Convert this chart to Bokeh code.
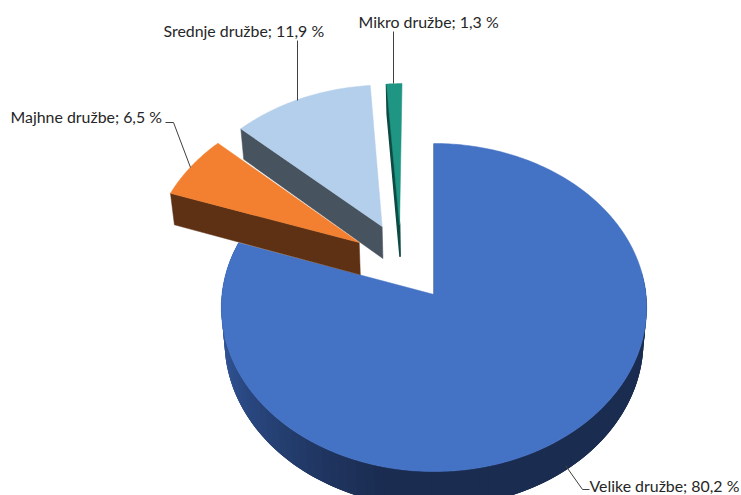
import math
from bokeh.core.properties import value
from bokeh.embed import file_html
from bokeh.models import Range1d
from bokeh.plotting import figure
from bokeh.resources import INLINE

# --- data ---
categories = ["Velike družbe", "Majhne družbe", "Srednje družbe", "Mikro družbe"]
shares = [80.2, 6.5, 11.9, 1.3]
value_labels = ["80,2 %", "6,5 %", "11,9 %", "1,3 %"]

# --- style and layout ---
top_colors = ["#4472c4", "#f28030", "#b4cfeb", "#1f9584"]
wall_colors = [None, "#5f3114", "#47535e", "#0e4a44"]
wall_widths = [0, 0.5, 0.5, 1.6]
explode = [(0.0, 0.0), (-0.362, 0.327), (-0.253, 0.431), (-0.168, 0.442)]
CX, CY, A, B, K = 433.5, 294.0, 163.0, 212.0, 0.0793
X_SHRINK, Y_DROP, Y_GROW = 0.985, 33.0, 0.015
label_x = [589, 10, 163, 358]
label_y = [485, 116, 30, 21]
leaders_x = [[565, 582, 589], [190, 173, 165], [297, 297], [393, 393]]
leaders_y = [[465, 489, 489], [167, 122, 122], [100, 40], [83, 31]]


def project(u, v):
    d = 1 + K * v
    return CX + B * u / d, CY - A * v / d


def lower(pt):
    x, y = pt
    return CX + (x - CX) * X_SHRINK, y + Y_DROP + Y_GROW * (y - CY)


def rim(theta, ex, ey):
    t = math.radians(theta)
    return project(math.sin(t) + ex, math.cos(t) + ey)


def mix(c1, c2, f):
    a = [int(c1[i:i + 2], 16) for i in (1, 3, 5)]
    b = [int(c2[i:i + 2], 16) for i in (1, 3, 5)]
    return "#%02x%02x%02x" % tuple(round(p + (q - p) * f) for p, q in zip(a, b))


W, H = 741, 495
p = figure(width=W, height=H, output_backend="svg", toolbar_location=None,
           x_range=Range1d(0, 741), y_range=Range1d(495, 0),
           min_border=0, outline_line_color=None, background_fill_color="white")
p.axis.visible = False
p.grid.visible = False

total = sum(shares)
edges = [0.0]
for s in shares:
    edges.append(edges[-1] + s / total * 360)

# big slice: gradient outer wall (overlapping quads), then top face
s0, e0 = edges[0], edges[1]
n = 120
thetas = [s0 + (e0 - s0) * i / n for i in range(n + 1)]
wx, wy, wc = [], [], []
for i in range(n):
    a = thetas[i]
    if a < 80 or a > 285:
        continue
    b = thetas[min(i + 3, n)]
    arc = [rim(a + (b - a) * j / 4, 0, 0) for j in range(5)]
    low = [lower(q) for q in reversed(arc)]
    poly = arc + low
    wx.append([q[0] for q in poly])
    wy.append([q[1] for q in poly])
    f = min(max((a - 192) / 78, 0), 1)
    wc.append(mix("#1a2c50", "#355ca4", f))
p.patches(wx, wy, fill_color=wc, line_color=None)

fine = [s0 + (e0 - s0) * i / 360 for i in range(361)]
pts = [project(0, 0)] + [rim(t, 0, 0) for t in fine]
p.patch([q[0] for q in pts], [q[1] for q in pts], fill_color=top_colors[0], line_color=top_colors[0], line_width=0.5)
ap = project(0, 0)
st = rim(0, 0, 0)
p.line([ap[0] - 0.5, st[0] - 0.5], [ap[1], st[1]], line_color="#1d3a6e", line_width=0.8, line_alpha=0.6)

# exploded slices, back to front
for i in (3, 2, 1):
    ex, ey = explode[i]
    s, e = edges[i], edges[i + 1]
    apex = project(ex, ey)
    outer = rim(s, ex, ey)
    wall = [apex, outer, lower(outer), lower(apex)]
    p.patch([q[0] for q in wall], [q[1] for q in wall], fill_color=wall_colors[i],
            line_color=wall_colors[i], line_width=wall_widths[i])
    arc = [rim(s + (e - s) * j / 60, ex, ey) for j in range(61)]
    face = [apex] + arc
    p.patch([q[0] for q in face], [q[1] for q in face], fill_color=top_colors[i],
            line_color=top_colors[i], line_width=0.5)

# leader lines and labels
for lx, ly in zip(leaders_x, leaders_y):
    p.line(lx, ly, line_color="#404040", line_width=1)

texts = [f"{c}; {v}" for c, v in zip(categories, value_labels)]
p.text(label_x, label_y, text=texts, text_font=value("Lato"), text_font_size="15.9px",
       text_color="#262626", text_align="left", text_baseline="middle")

open("out.html", "w").write(file_html(p, INLINE))
